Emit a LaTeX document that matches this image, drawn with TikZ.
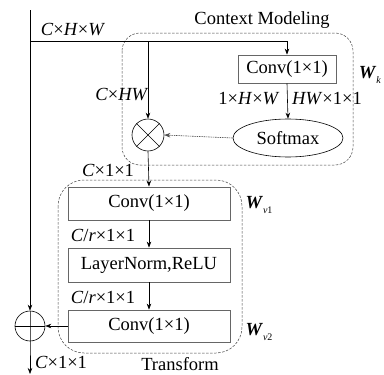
\documentclass[tikz,border=0pt]{standalone}
\usepackage{fontspec}
\setmainfont{Liberation Serif}
\usetikzlibrary{arrows.meta,shapes.geometric}
\newcommand\Wsub[1]{\textbf{\textit{W}}\raisebox{-0.5ex}{\fontsize{10}{11}\selectfont #1}}
\begin{document}
\begin{tikzpicture}[x=1pt,y=-1pt,
  every node/.style={font=\fontsize{18.5}{20}\selectfont, inner sep=0pt},
  box/.style={draw=black!60, line width=0.8pt, minimum width=162pt, minimum height=33pt},
  arr/.style={-{Stealth[length=6pt,width=4.5pt]}, line width=0.6pt},
  line/.style={line width=0.6pt},
  region/.style={draw=black!75, line width=0.5pt, dash pattern=on 2.5pt off 1.5pt}]
\useasboundingbox (0,0) rectangle (384,375);
% regions
\draw[region, rounded corners=18pt] (122,33) rectangle (353,165);
\draw[region, rounded corners=26pt] (58,180) rectangle (242,353);
% nodes
\node[box, minimum width=98pt, minimum height=28pt] (conv0) at (287,69) {Conv(1×1)};
\node[draw, ellipse, line width=0.6pt, minimum width=110pt, minimum height=38pt] (soft) at (288,138) {Softmax};
\node[draw, circle, line width=0.6pt, minimum size=32pt] (ot) at (148,135) {};
\node[box] (conv1) at (149,203.5) {Conv(1×1)};
\node[box, minimum height=34pt] (ln) at (149,265) {LayerNorm,ReLU};
\node[box, minimum height=32pt] (conv2) at (149,326) {Conv(1×1)};
\node[draw, circle, line width=0.6pt, minimum size=30pt] (op) at (30,326) {};
\coordinate (top) at (30,10);
\coordinate (bot) at (30,374);
\coordinate (ha) at (30,41);
\coordinate (hb) at (148,41);
\coordinate (hc) at (287,41);
% circle symbols
\draw[line] (ot.north east) -- (ot.south west);
\draw[line] (ot.north west) -- (ot.south east);
\draw[line] (op.west) -- (op.east);
% connectors
\draw[arr] (top) -- (op.north);
\draw[arr] (op.north) -- (op.south) -- (bot);
\draw[line width=1pt] (ha) -- (hc);
\draw[arr] (hc) -- (conv0.north);
\draw[arr] (hb) -- (ot.north);
\draw[arr] (conv0.south) -- (soft.north);
\draw[arr, dash pattern=on 1.5pt off 0.8pt, draw=black!70] (soft.west) -- (ot.east);
\draw[arr] (ot.south) -- (conv1.north);
\draw[arr] (conv1.south) -- (ln.north);
\draw[arr] (ln.south) -- (conv2.north);
\draw[arr] (conv2.west) -- (op.east);
% labels
\node (l1) at (73,30) {\textit{C}×\textit{H}×\textit{W}};
\node (l2) at (262,20) {Context Modeling};
\node (l3) at (122,95) {\textit{C}×\textit{HW}};
\node (l4) at (249,99) {1×\textit{H}×\textit{W}};
\node (l5) at (327,99) {\textit{HW}×1×1};
\node (l6) at (370,75) {\Wsub{\textit{k}}};
\node (l7) at (108,170) {\textit{C}×1×1};
\node (l8) at (103,235) {\textit{C}/\textit{r}×1×1};
\node (l9) at (103,297) {\textit{C}/\textit{r}×1×1};
\node (l10) at (259,205) {\Wsub{\textit{v}1}};
\node (l11) at (259,332) {\Wsub{\textit{v}2}};
\node (l12) at (61,362) {\textit{C}×1×1};
\node (l13) at (180,364) {Transform};
\end{tikzpicture}
\end{document}
